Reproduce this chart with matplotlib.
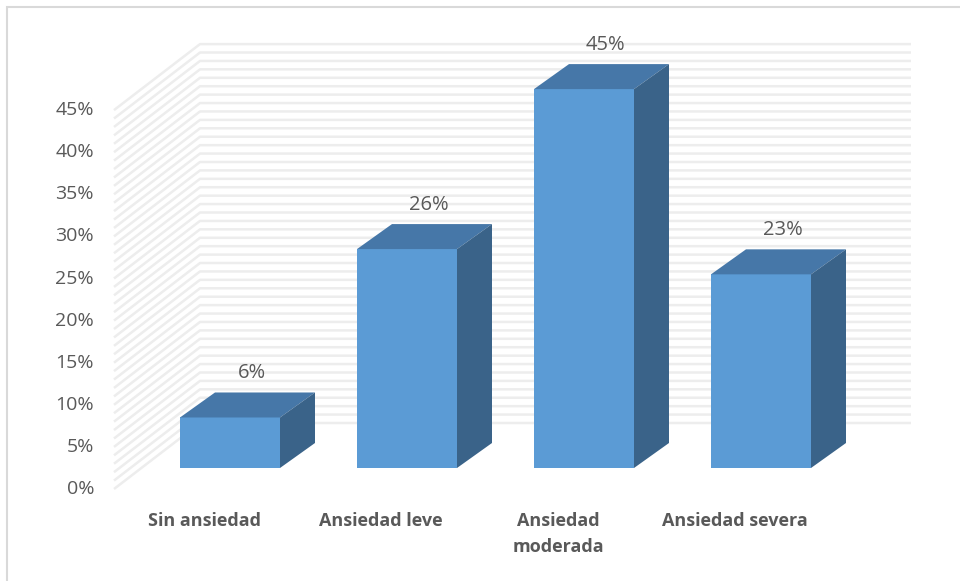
import matplotlib.pyplot as plt
from matplotlib.patches import Polygon, Rectangle

categories = ['Sin ansiedad', 'Ansiedad leve', 'Ansiedad\nmoderada', 'Ansiedad severa']
values = [6, 26, 45, 23]
value_labels = ['6%', '26%', '45%', '23%']
ticks = [0, 5, 10, 15, 20, 25, 30, 35, 40, 45]
tick_labels = ['0%', '5%', '10%', '15%', '20%', '25%', '30%', '35%', '40%', '45%']

# 3d look: pixel scale of the reference, 177 px per category, 8.42 px per percent
px_x = 177.0
px_y = 8.42
W, H = 960, 581

front = '#5B9BD5'
top_c = '#4677A8'
side_c = '#3A6389'
grid_c = '#EDEDED'
text_c = '#595959'

fig = plt.figure(figsize=(9.6, 5.81), dpi=100)
ax = fig.add_axes([0, 0, 1, 1])
ax.set_xlim(-230 / px_x, (W - 230) / px_x)
ax.set_ylim(-(H - 489) / px_y, 489 / px_y)
ax.axis('off')

# depth directions (data units)
wall_dx, wall_dy = 86 / px_x, 66 / px_y
bar_dx, bar_dy = 35 / px_x, 25 / px_y
bar_w = 100 / px_x
bar_off_x = 0.0 - 50 / px_x
bar_off_y = 21 / px_y
wall_left = -116 / px_x
wall_right = 911 / px_x - 230 / px_x

# gridlines every 1 %
for g in range(0, max(ticks) + 1):
    ax.plot([wall_left, wall_left + wall_dx, wall_right],
            [g, g + wall_dy, g + wall_dy], color=grid_c, lw=1.8, zorder=1,
            solid_capstyle='butt')

# bars
for i, v in enumerate(values):
    x0 = i + bar_off_x
    x1 = x0 + bar_w
    y0 = bar_off_y
    y1 = y0 + v
    ax.add_patch(Polygon([(x0, y0), (x1, y0), (x1, y1), (x0, y1)],
                         closed=True, fc=front, ec='none', zorder=3))
    ax.add_patch(Polygon([(x0, y1), (x1, y1), (x1 + bar_dx, y1 + bar_dy),
                          (x0 + bar_dx, y1 + bar_dy)],
                         closed=True, fc=top_c, ec='none', zorder=3))
    ax.add_patch(Polygon([(x1, y0), (x1 + bar_dx, y0 + bar_dy),
                          (x1 + bar_dx, y1 + bar_dy), (x1, y1)],
                         closed=True, fc=side_c, ec='none', zorder=3))
    ax.text(i + bar_dx / 2 + 4 / px_x, y1 + bar_dy + 19 / px_y, value_labels[i],
            ha='center', va='center', fontsize=14.5, color=text_c,
            family='Open Sans', zorder=4)
    ax.text(i - 26 / px_x, -23 / px_y, categories[i], ha='center', va='top',
            fontsize=13, fontweight='bold', color=text_c, family='Open Sans',
            linespacing=1.6, zorder=4)

for t, lab in zip(ticks, tick_labels):
    ax.text(wall_left - 20 / px_x, t, lab, ha='right', va='center',
            fontsize=14, color=text_c, family='Open Sans')

# chart border
ax.add_patch(Rectangle((-223 / px_x, -200), 100, 482 / px_y + 200,
                       fill=False, ec='#D9D9D9', lw=1.5, zorder=5))

fig.savefig('out.png', dpi=100)
